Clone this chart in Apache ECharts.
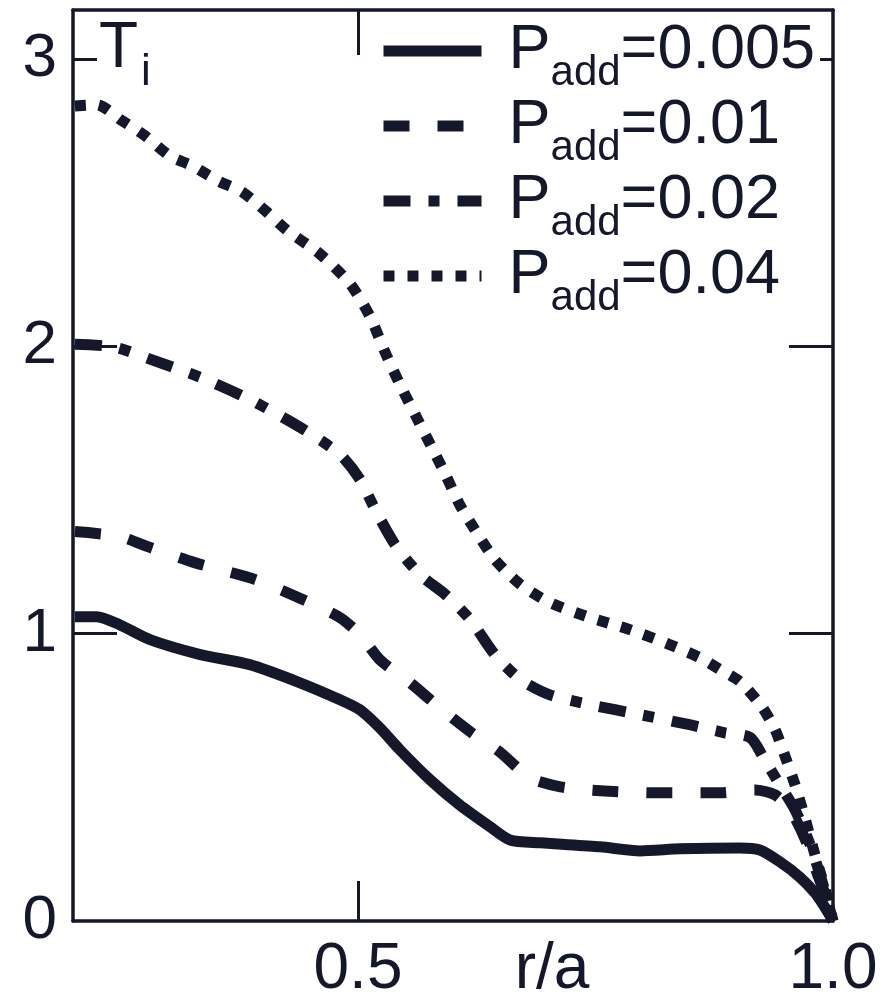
<!DOCTYPE html>
<html>
<head>
<meta charset="utf-8">
<script src="https://cdn.jsdelivr.net/npm/echarts@6/dist/echarts.min.js"></script>
<style>
  html, body { margin: 0; padding: 0; background: #ffffff; }
  #chart { width: 883px; height: 1005px; }
</style>
</head>
<body>
<div id="chart"></div>
<script>
// Ion temperature profiles T_i(r/a) for four levels of added power.
const powerLabels = ['0.005', '0.01', '0.02', '0.04'];

const radius005 = [0.202, 0.225, 0.249, 0.281, 0.334, 0.386, 0.439, 0.481, 0.502, 0.523, 0.544, 0.576, 0.607, 0.639, 0.660, 0.692, 0.755, 0.797, 0.839, 0.902, 0.923, 0.944, 0.965, 0.981, 0.992, 1.0];
const temp005   = [1.059, 1.059, 1.031, 0.979, 0.927, 0.892, 0.829, 0.770, 0.735, 0.672, 0.596, 0.491, 0.404, 0.328, 0.282, 0.272, 0.258, 0.244, 0.251, 0.254, 0.247, 0.206, 0.153, 0.098, 0.045, 0.0];

const radius01 = [0.202, 0.249, 0.281, 0.328, 0.392, 0.449, 0.481, 0.502, 0.523, 0.555, 0.586, 0.618, 0.649, 0.681, 0.713, 0.755, 0.818, 0.881, 0.918, 0.939, 0.955, 0.971, 0.984, 0.994, 1.0];
const temp01   = [1.355, 1.338, 1.300, 1.247, 1.188, 1.108, 1.056, 0.997, 0.909, 0.829, 0.742, 0.659, 0.589, 0.498, 0.467, 0.453, 0.446, 0.446, 0.456, 0.439, 0.387, 0.282, 0.160, 0.073, 0.0];

const radius02 = [0.202, 0.244, 0.281, 0.334, 0.386, 0.439, 0.481, 0.502, 0.518, 0.539, 0.565, 0.592, 0.618, 0.644, 0.671, 0.702, 0.744, 0.797, 0.849, 0.886, 0.913, 0.928, 0.944, 0.960, 0.976, 0.988, 1.0];
const temp02   = [2.007, 1.997, 1.955, 1.892, 1.815, 1.718, 1.624, 1.537, 1.432, 1.310, 1.206, 1.136, 1.049, 0.927, 0.840, 0.787, 0.753, 0.718, 0.683, 0.655, 0.638, 0.561, 0.474, 0.387, 0.265, 0.143, 0.0];

const radius04 = [0.202, 0.225, 0.252, 0.276, 0.302, 0.326, 0.353, 0.378, 0.404, 0.425, 0.460, 0.492, 0.513, 0.528, 0.544, 0.560, 0.576, 0.592, 0.607, 0.623, 0.644, 0.671, 0.702, 0.744, 0.786, 0.828, 0.860, 0.881, 0.902, 0.925, 0.939, 0.949, 0.960, 0.971, 0.981, 0.992, 1.0];
const temp04   = [2.836, 2.840, 2.784, 2.732, 2.662, 2.627, 2.575, 2.537, 2.467, 2.404, 2.321, 2.216, 2.101, 1.983, 1.868, 1.763, 1.659, 1.554, 1.449, 1.362, 1.258, 1.171, 1.108, 1.056, 1.014, 0.962, 0.916, 0.875, 0.833, 0.746, 0.666, 0.578, 0.474, 0.352, 0.230, 0.108, 0.0];

const xLabelValues = [0.5, 1.0];
const xTickValues = [0.5];
const yLabelValues = [0, 1, 2, 3];
const yLongTicks = [1, 2];
const yShortTicks = [3];

const ink = '#15182a';
const font = '"Liberation Sans", Arial, Helvetica, sans-serif';

const zip = (xs, ys) => xs.map((x, i) => [x, ys[i]]);

// dash patterns: solid, dashed, dash-dot, dotted (square dots)
const dashes = ['solid', [26, 28], [27, 18, 11, 18], [11, 13]];
const profiles = [
  zip(radius005, temp005),
  zip(radius01, temp01),
  zip(radius02, temp02),
  zip(radius04, temp04)
];

const series = profiles.map((data, i) => ({
  name: powerLabels[i],
  type: 'line',
  data: data,
  symbol: 'none',
  smooth: 0.25,
  animation: false,
  lineStyle: { color: ink, width: 11, type: dashes[i], cap: 'butt', join: 'miter' },
  itemStyle: { color: ink }
}));

const axisLineStyle = { color: ink, width: 3.5 };
const tickStyle = { color: ink, width: 3 };

// frame: bottom/top x axes, left/right y axes, plus short-tick companions at T = 3
function yFrameAxis(position, ticks, length, showLine, labels) {
  return {
    type: 'value', position: position, min: 0, max: 3.17, offset: 0,
    axisLine: { show: showLine, onZero: false, lineStyle: axisLineStyle },
    axisTick: { show: true, inside: true, length: length, customValues: ticks, lineStyle: tickStyle },
    axisLabel: labels
      ? { customValues: yLabelValues, fontSize: 62, margin: 16, color: ink, fontFamily: font }
      : { show: false },
    splitLine: { show: false }
  };
}

const chart = echarts.init(document.getElementById('chart'), null, { renderer: 'canvas' });
chart.setOption({
  backgroundColor: '#ffffff',
  animation: false,
  grid: { left: 73, right: 50, top: 10, bottom: 84, outerBoundsMode: 'none', containLabel: false },
  xAxis: [{
    type: 'value', position: 'bottom', min: 0.2, max: 1.0,
    axisLine: { show: true, onZero: false, lineStyle: axisLineStyle },
    axisTick: { show: true, inside: true, length: 40, customValues: xTickValues, lineStyle: tickStyle },
    axisLabel: { customValues: xLabelValues, formatter: v => v.toFixed(1), fontSize: 64, margin: 17, color: ink, fontFamily: font },
    splitLine: { show: false }
  }, {
    type: 'value', position: 'top', min: 0.2, max: 1.0,
    axisLine: { show: true, onZero: false, lineStyle: axisLineStyle },
    axisTick: { show: true, inside: true, length: 45, customValues: xTickValues, lineStyle: tickStyle },
    axisLabel: { show: false },
    splitLine: { show: false }
  }],
  yAxis: [
    yFrameAxis('left', yLongTicks, 44, true, true),
    yFrameAxis('right', yLongTicks, 44, true, false),
    yFrameAxis('left', yShortTicks, 24, false, false),
    yFrameAxis('right', yShortTicks, 13, false, false)
  ],
  legend: {
    orient: 'vertical', left: 378, top: 8,
    itemWidth: 98, itemHeight: 12, itemGap: -11,
    padding: 0,
    itemStyle: { opacity: 0 },
    lineStyle: { width: 11 },
    formatter: name => `{g|}{p|P}{s|add}{p|=${name}}`,
    textStyle: {
      color: ink, fontFamily: font,
      rich: {
        g: { width: 22, lineHeight: 74 },
        p: { fontSize: 63, lineHeight: 74, color: ink, fontFamily: font },
        s: { fontSize: 42, lineHeight: 74, padding: [44, 0, 0, 0], color: ink, fontFamily: font }
      }
    },
    data: powerLabels
  },
  graphic: [{
    type: 'text', left: 99, top: 3, z: 10,
    style: {
      text: '{t|T}{i|i}',
      rich: {
        t: { fontSize: 64, lineHeight: 60, fill: ink, fontFamily: font },
        i: { fontSize: 44, lineHeight: 60, padding: [48, 0, 0, 3], fill: ink, fontFamily: font }
      }
    }
  }, {
    type: 'text', x: 552, y: 938, z: 10,
    style: { text: 'r/a', fontSize: 64, fontFamily: font, fill: ink, textAlign: 'center', textVerticalAlign: 'top' }
  }],
  series: series
});
</script>
</body>
</html>
